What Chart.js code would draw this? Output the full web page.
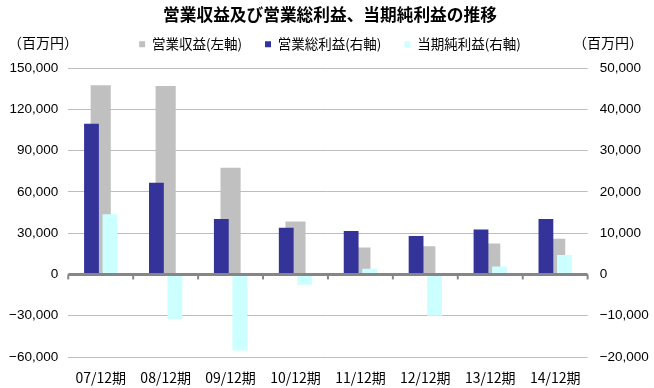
<!DOCTYPE html>
<html>
<head>
<meta charset="utf-8">
<script src="https://cdn.jsdelivr.net/npm/chart.js@4"></script>
<style>
    body { margin: 0; background: #fff; }
    #wrap { position: relative; width: 654px; height: 388px; }
    .unit { position: absolute; top: 32px; font: 14px "Noto Sans CJK JP", sans-serif; color: #000; }
</style>
</head>
<body>
<div id="wrap">
    <canvas id="chart" width="654" height="388"></canvas>
    <div class="unit" style="left:8px">（百万円）</div>
    <div class="unit" style="left:573px">（百万円）</div>
</div>
<script>
const periods = ['07/12期', '08/12期', '09/12期', '10/12期', '11/12期', '12/12期', '13/12期', '14/12期'];
// 営業収益 (left axis, 百万円)
const revenue = [137500, 137000, 77500, 38500, 19500, 20500, 22500, 26000];
// 営業総利益 (right axis)
const grossProfit = [36500, 22200, 13400, 11300, 10500, 9300, 10900, 13400];
// 当期純利益 (right axis)
const netIncome = [14600, -10800, -18400, -2500, 1400, -10000, 1900, 4700];

const leftTicks = { min: -60000, max: 150000, step: 30000 };
const rightTicks = { min: -20000, max: 50000, step: 10000 };

const jp = '"Noto Sans CJK JP", sans-serif';
const num = v => (v < 0 ? '−' : '') + Math.abs(v).toLocaleString('en-US');

// zero axis line + small tick marks at category boundaries
const zeroAxis = {
    id: 'zeroAxis',
    beforeInit(chart) {
        // a bit more room under the legend
        const lg = chart.legend;
        const fit = lg.fit;
        lg.fit = function () { fit.call(this); this.height += 7; };
    },
    afterDatasetsDraw(chart) {
        const { ctx, scales: { x, y } } = chart;
        const y0 = y.getPixelForValue(0);
        ctx.save();
        ctx.strokeStyle = '#868686';
        ctx.lineWidth = 3;
        ctx.beginPath();
        ctx.moveTo(x.left, y0);
        ctx.lineTo(x.right, y0);
        ctx.stroke();
        ctx.lineWidth = 2;
        const n = periods.length;
        for (let i = 0; i <= n; i++) {
            const px = x.left + i * x.width / n;
            ctx.beginPath();
            ctx.moveTo(px, y0);
            ctx.lineTo(px, y0 + 5);
            ctx.stroke();
        }
        ctx.restore();
    }
};

new Chart(document.getElementById('chart'), {
    type: 'bar',
    data: {
        labels: periods,
        datasets: [
            {
                label: '営業収益(左軸)',
                data: revenue,
                backgroundColor: '#c0c0c0',
                yAxisID: 'y',
                order: 1,
                grouped: false,
                categoryPercentage: 1,
                barPercentage: 0.31
            },
            {
                label: '営業総利益(右軸)',
                data: grossProfit,
                backgroundColor: '#333399',
                yAxisID: 'y2',
                order: 0,
                categoryPercentage: 0.57,
                barPercentage: 0.8
            },
            {
                label: '当期純利益(右軸)',
                data: netIncome,
                backgroundColor: '#ccffff',
                yAxisID: 'y2',
                order: 0,
                categoryPercentage: 0.57,
                barPercentage: 0.8
            }
        ]
    },
    options: {
        responsive: false,
        animation: false,
        layout: { padding: { left: -0.9, right: -6.8, top: 0, bottom: -9.8 } },
        plugins: {
            title: {
                display: true,
                text: '営業収益及び営業総利益、当期純利益の推移',
                color: '#000',
                font: { family: jp, size: 16.7, weight: 'bold' },
                padding: { top: 4.5, bottom: -10 }
            },
            legend: {
                labels: {
                    color: '#000',
                    font: { family: jp, size: 13.5 },
                    boxWidth: 6, boxHeight: 6,
                    padding: 23,
                    sort: (a, b) => a.datasetIndex - b.datasetIndex
                }
            },
            tooltip: { enabled: false }
        },
        scales: {
            x: {
                grid: { display: false, drawTicks: false },
                border: { display: false },
                ticks: { color: '#000', font: { family: jp, size: 14 }, padding: 12 }
            },
            y: {
                position: 'left',
                min: leftTicks.min, max: leftTicks.max,
                ticks: {
                    stepSize: leftTicks.step, color: '#000', padding: 10,
                    font: { family: '"Liberation Sans", Arial, sans-serif', size: 13.5 },
                    callback: num
                },
                grid: { color: '#bdbdbd', drawTicks: false },
                border: { display: false }
            },
            y2: {
                position: 'right',
                min: rightTicks.min, max: rightTicks.max,
                ticks: {
                    stepSize: rightTicks.step, color: '#000', padding: 12,
                    font: { family: '"Liberation Sans", Arial, sans-serif', size: 13.5 },
                    callback: num
                },
                grid: { drawOnChartArea: false, drawTicks: false },
                border: { display: false }
            }
        }
    },
    plugins: [zeroAxis]
});
</script>
</body>
</html>
